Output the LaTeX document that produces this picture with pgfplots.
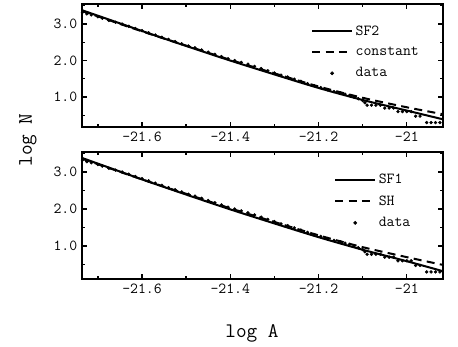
\documentclass[border=0pt]{standalone}
\usepackage{pgfplots}
\pgfplotsset{compat=1.18}
\usepackage{pgfplotstable}

% measured cumulative counts (log N vs log A)
\pgfplotstableread{
x y
-21.735 3.32
-21.725 3.28
-21.715 3.25
-21.700 3.20
-21.690 3.16
-21.675 3.10
-21.660 3.05
-21.645 3.00
-21.630 2.94
-21.615 2.88
-21.600 2.82
-21.585 2.76
-21.570 2.70
-21.555 2.64
-21.540 2.58
-21.525 2.52
-21.510 2.46
-21.495 2.40
-21.480 2.35
-21.465 2.29
-21.450 2.23
-21.435 2.17
-21.420 2.11
-21.405 2.05
-21.390 2.00
-21.375 1.95
-21.360 1.90
-21.345 1.84
-21.330 1.78
-21.315 1.72
-21.300 1.66
-21.285 1.60
-21.270 1.55
-21.255 1.49
-21.240 1.43
-21.225 1.37
-21.210 1.31
-21.195 1.26
-21.180 1.20
-21.165 1.15
-21.150 1.114
-21.140 1.079
-21.130 1.041
-21.120 1.000
-21.110 0.954
-21.100 0.903
-21.095 0.845
-21.090 0.778
-21.080 0.778
-21.070 0.778
-21.060 0.778
-21.050 0.699
-21.040 0.699
-21.030 0.699
-21.020 0.602
-21.010 0.602
-21.000 0.602
-20.990 0.602
-20.980 0.477
-20.970 0.477
-20.955 0.301
-20.945 0.301
-20.935 0.301
-20.925 0.301
}\datatab

\pgfplotstableread{
x y
-21.736 3.38
-21.600 2.81
-21.500 2.40
-21.400 2.00
-21.300 1.62
-21.200 1.25
-21.100 0.92
-21.000 0.63
-20.918 0.39
}\sftwo

\pgfplotstableread{
x y
-21.736 3.36
-21.600 2.80
-21.500 2.41
-21.400 2.02
-21.300 1.65
-21.200 1.29
-21.100 0.98
-21.000 0.72
-20.918 0.53
}\constant

\pgfplotstableread{
x y
-21.736 3.38
-21.600 2.80
-21.500 2.39
-21.400 1.99
-21.300 1.61
-21.200 1.24
-21.100 0.90
-21.000 0.59
-20.918 0.32
}\sfone

\pgfplotstableread{
x y
-21.736 3.36
-21.600 2.80
-21.500 2.41
-21.400 2.02
-21.300 1.65
-21.200 1.29
-21.100 0.97
-21.000 0.70
-20.918 0.49
}\shtab

\pgfplotsset{
  panel/.style={
    scale only axis, width=270.75pt,
    xmin=-21.736, xmax=-20.918,
    axis line style={line width=1.5pt},
    tick align=inside,
    xtick={-21.6,-21.4,-21.2,-21},
    xticklabels={-21.6,-21.4,-21.2,-21},
    minor xtick={-21.7,-21.5,-21.3,-21.1},
    ytick={1,2,3}, yticklabels={1.0,2.0,3.0},
    minor ytick={0.5,1.5,2.5,3.5},
    major tick length=4pt, minor tick length=2.5pt,
    every tick/.style={black, line width=1pt},
    tick label style={font=\ttfamily\fontsize{11.5}{13}\selectfont},
    legend style={draw=none, fill=none, anchor=north west,
      font=\ttfamily\fontsize{11.5}{13}\selectfont, row sep=3.5pt},
    legend cell align=left,
  },
  fitline/.style={black, line width=1.5pt, smooth},
  fitdash/.style={black, line width=1.5pt, smooth, dash pattern=on 6pt off 4pt},
  dots/.style={black, only marks, mark=*, mark size=1.05pt,
    legend image code/.code={\fill (0.525cm,0cm) circle (1.2pt);}},
}

\begin{document}
\begin{tikzpicture}
\path (0,0) rectangle (343.5pt,258.75pt);

\begin{axis}[panel, at={(61.5pt,163.5pt)}, anchor=south west,
  height=92.25pt, ymin=0.18, ymax=3.55,
  legend style={at={(0.623,0.87)}},
  legend image code/.code={\draw[#1] (0cm,0cm) -- (1.05cm,0cm);}]
\addplot[fitline] table {\sftwo};
\addplot[fitdash] table {\constant};
\addplot[dots] table {\datatab};
\legend{SF2,constant,data}
\end{axis}

\begin{axis}[panel, at={(61.5pt,49.5pt)}, anchor=south west,
  height=95.25pt, ymin=0.11, ymax=3.54,
  legend style={at={(0.687,0.87)}},
  legend image code/.code={\draw[#1] (0cm,0cm) -- (1.05cm,0cm);}]
\addplot[fitline] table {\sfone};
\addplot[fitdash] table {\shtab};
\addplot[dots] table {\datatab};
\legend{SF1,SH,data}
\end{axis}

\node[rotate=90, font=\ttfamily\fontsize{15.5}{17}\selectfont] at (21pt,153.75pt) {log N};
\node[font=\ttfamily\fontsize{15.5}{17}\selectfont] at (189pt,9pt) {log A};
\end{tikzpicture}
\end{document}
